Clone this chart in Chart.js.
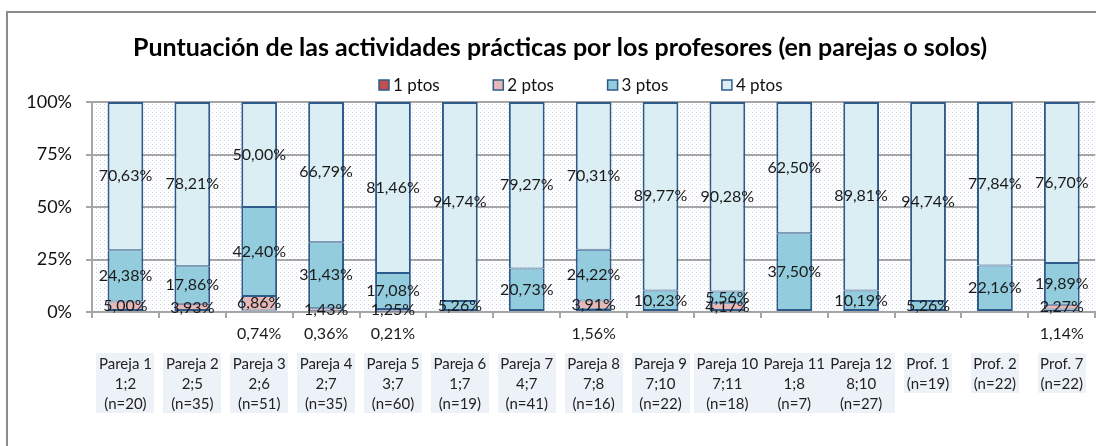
<!DOCTYPE html>
<html><head><meta charset="utf-8">
<script src="https://cdn.jsdelivr.net/npm/chart.js@4"></script>
<style>
html,body{margin:0;padding:0;overflow:hidden;background:#fff;width:1096px;height:446px}
#wrap{position:absolute;left:0;top:0;width:1120px;height:446px}
</style>
</head><body><div id="wrap"><canvas id="c" width="1120" height="446"></canvas></div>
<script>
const categories = [
  ["Pareja 1","1;2","(n=20)"],
  ["Pareja 2","2;5","(n=35)"],
  ["Pareja 3","2;6","(n=51)"],
  ["Pareja 4","2;7","(n=35)"],
  ["Pareja 5","3;7","(n=60)"],
  ["Pareja 6","1;7","(n=19)"],
  ["Pareja 7","4;7","(n=41)"],
  ["Pareja 8","7;8","(n=16)"],
  ["Pareja 9","7;10","(n=22)"],
  ["Pareja 10","7;11","(n=18)"],
  ["Pareja 11","1;8","(n=7)"],
  ["Pareja 12","8;10","(n=27)"],
  ["Prof. 1","(n=19)"],
  ["Prof. 2","(n=22)"],
  ["Prof. 7","(n=22)"]
];
const pts1 = [0,0,0.74,0.36,0.21,0,0,1.56,0,0,0,0,0,0,1.14];
const pts2 = [5.00,3.93,6.86,1.43,1.25,0,0,3.91,0,4.17,0,0,0,0,2.27];
const pts3 = [24.38,17.86,42.40,31.43,17.08,5.26,20.73,24.22,10.23,5.56,37.50,10.19,5.26,22.16,19.89];
const pts4 = [70.63,78.21,50.00,66.79,81.46,94.74,79.27,70.31,89.77,90.28,62.50,89.81,94.74,77.84,76.70];
const seriesNames = ["1 ptos","2 ptos","3 ptos","4 ptos"];
const seriesColors = ["#c0504d","#e6b9b8","#93cddd","#dbeef4"];
const yTicks = [0,25,50,75,100];
const chartTitle = "Puntuación de las actividades prácticas por los profesores (en parejas o solos)";

const FONT = "Lato, 'Open Sans', sans-serif";
const BORDER = "#2e5b8c";
const GRID = "#a6a6a6";
const series = [pts1,pts2,pts3,pts4];
const TICK_FONT = {family:FONT,size:15,lineHeight:1.333};

function makePattern(ctx){
  const p = document.createElement('canvas');
  p.width = 4; p.height = 4;
  const c = p.getContext('2d');
  c.fillStyle = '#ffffff'; c.fillRect(0,0,4,4);
  c.fillStyle = '#c9d5e8'; c.fillRect(0,0,1,1);
  c.fillStyle = '#e2e9f3'; c.fillRect(2,2,1,1);
  return ctx.createPattern(p,'repeat');
}

const decor = {
  id:'decor',
  beforeDraw(chart){
    const ctx = chart.ctx, a = chart.chartArea;
    ctx.save();
    ctx.fillStyle = '#fff';
    ctx.fillRect(0,0,chart.width,chart.height);
    ctx.strokeStyle = '#8c8c8c'; ctx.lineWidth = 2;
    ctx.strokeRect(7,12,chart.width+50,chart.height+50);
    ctx.fillStyle = makePattern(ctx);
    ctx.fillRect(a.left,a.top,a.right-a.left,a.bottom-a.top);
    // category label backdrops
    const xs = chart.scales.x;
    ctx.font = TICK_FONT.size + "px " + FONT;
    ctx.fillStyle = '#edf1f8';
    categories.forEach((lines,j)=>{
      const cx = xs.getPixelForValue(j);
      const w = Math.max(...lines.map(l=>ctx.measureText(l).width)) + 5;
      const h = lines.length*20;
      ctx.fillRect(Math.round(cx - w/2), 353, Math.round(w), h);
    });
    // title
    ctx.fillStyle = '#000';
    ctx.font = "bold 25px " + FONT;
    ctx.textAlign = 'center'; ctx.textBaseline = 'middle';
    ctx.fillText(chartTitle, 560, 48);
    // legend
    ctx.font = "17px " + FONT;
    ctx.textAlign = 'left';
    let x = 379;
    seriesNames.forEach((n,i)=>{
      ctx.fillStyle = seriesColors[i];
      ctx.fillRect(x,80,10,10);
      ctx.strokeStyle = BORDER; ctx.lineWidth = 1.5;
      ctx.strokeRect(x,80,10,10);
      ctx.fillStyle = '#111';
      ctx.fillText(n, x+14, 85.5);
      x += 114.3;
    });
    ctx.restore();
  },
  afterDatasetsDraw(chart){
    const ctx = chart.ctx;
    const y0 = chart.scales.y.getPixelForValue(0);
    ctx.save();
    ctx.font = "16px " + FONT;
    ctx.fillStyle = '#1a1a1a';
    ctx.textAlign = 'center'; ctx.textBaseline = 'middle';
    chart.data.datasets.forEach((ds,i)=>{
      const meta = chart.getDatasetMeta(i);
      meta.data.forEach((el,j)=>{
        const v = ds.data[j];
        if (!v) return;
        const txt = v.toFixed(2).replace('.',',') + '%';
        const y = i === 0 ? y0 + 22 : (el.y + el.base)/2;
        ctx.fillText(txt, el.x, y);
      });
    });
    ctx.restore();
  }
};

function segBorder(c){
  const i = c.datasetIndex, j = c.dataIndex;
  let above = false, below = false;
  for (let k = i+1; k < series.length; k++) if (series[k][j]) above = true;
  for (let k = 0; k < i; k++) if (series[k][j]) below = true;
  return {left:2,right:2,top: above ? 1 : 2, bottom: below ? 1 : 2};
}

new Chart(document.getElementById('c'), {
  type:'bar',
  data:{
    labels: categories,
    datasets: series.map((d,i)=>({
      label: seriesNames[i],
      data: d.map(v => v ? v : null),
      backgroundColor: seriesColors[i],
      borderColor: BORDER,
      borderWidth: segBorder,
      borderSkipped: false,
      categoryPercentage: 1,
      barPercentage: 0.535
    }))
  },
  options:{
    responsive:false,
    animation:false,
    devicePixelRatio:1,
    layout:{padding:{top:102,right:16,left:0,bottom:0}},
    plugins:{legend:{display:false},title:{display:false},tooltip:{enabled:false}},
    scales:{
      x:{
        stacked:true,
        grid:{drawOnChartArea:false,drawTicks:true,tickLength:6,color:GRID,lineWidth:2,offset:true},
        border:{display:true,color:GRID,width:2},
        ticks:{
          autoSkip:false,maxRotation:0,minRotation:0,
          padding:36,
          color:'#222',
          font:TICK_FONT
        },
        afterFit(s){ s.height = 134; }
      },
      y:{
        stacked:true,
        min:0,max:100,
        afterBuildTicks(s){ s.ticks = yTicks.map(v=>({value:v})); },
        grid:{color:GRID,lineWidth:2,drawTicks:true,tickLength:6},
        border:{display:true,color:GRID,width:2},
        ticks:{
          padding:14,
          color:'#111',
          font:{family:FONT,size:18},
          callback:v=>v+'%'
        },
        afterFit(s){ s.width = 92; }
      }
    }
  },
  plugins:[decor]
});
</script>
</body></html>
